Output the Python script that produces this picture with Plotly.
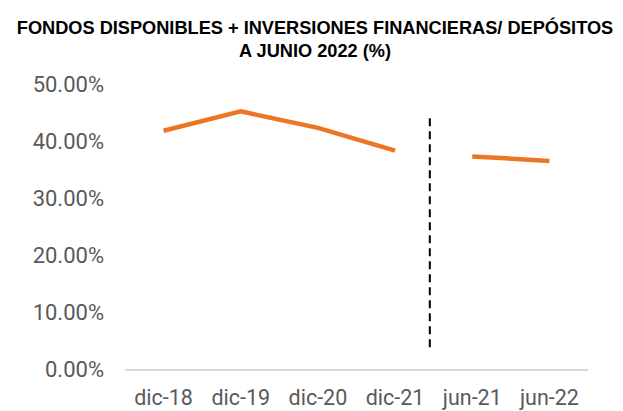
import plotly.graph_objects as go

categories = ["dic-18", "dic-19", "dic-20", "dic-21", "jun-21", "jun-22"]
values = [0.418, 0.452, 0.423, 0.383, 0.373, 0.365]
y_ticks = [0, 0.1, 0.2, 0.3, 0.4, 0.5]
title_text = "<b>FONDOS DISPONIBLES + INVERSIONES FINANCIERAS/ DEPÓSITOS<br>A JUNIO 2022 (%)</b>"
split = 4  # annual series vs. semester series
separator_pos = 3.45
separator_y = [0.038, 0.443]

line_color = "#EC7623"
W, H = 623, 411
OFF = 8  # default page body margin

fig = go.Figure()
fig.add_trace(go.Scatter(x=categories[:split], y=values[:split], mode="lines",
                         line=dict(color=line_color, width=4.5), showlegend=False))
fig.add_trace(go.Scatter(x=categories[split:], y=values[split:], mode="lines",
                         line=dict(color=line_color, width=4.5), showlegend=False))

fig.add_shape(type="line", xref="x", yref="y",
              x0=separator_pos, x1=separator_pos, y0=separator_y[0], y1=separator_y[1],
              line=dict(color="black", width=2, dash="8px,5px"))

fig.update_layout(
    width=W, height=H,
    margin=dict(l=125 - OFF, r=W - (588 - OFF), t=84 - OFF, b=H - (369 - OFF), autoexpand=False),
    paper_bgcolor="white", plot_bgcolor="white",
    title=dict(text=title_text, x=(315 - OFF) / W, xanchor="center",
               y=1 - (33.5 - OFF) / H, yanchor="middle",
               font=dict(family="Liberation Sans, Arial", size=18.2, color="black")),
    xaxis=dict(type="category", categoryorder="array", categoryarray=categories,
               range=[-0.5, 5.5], showgrid=False, zeroline=False, automargin=False,
               showline=True, linecolor="#D9D9D9", linewidth=2,
               ticks="", ticklabelstandoff=8,
               tickfont=dict(family="Roboto", size=21.5, color="#595959")),
    yaxis=dict(range=[0, 0.5], tickvals=y_ticks, tickformat=".2%", automargin=False,
               showgrid=False, zeroline=False, showline=False, ticks="",
               ticklabelstandoff=20,
               tickfont=dict(family="Roboto", size=22, color="#595959")),
)

fig.write_html("out.html")
